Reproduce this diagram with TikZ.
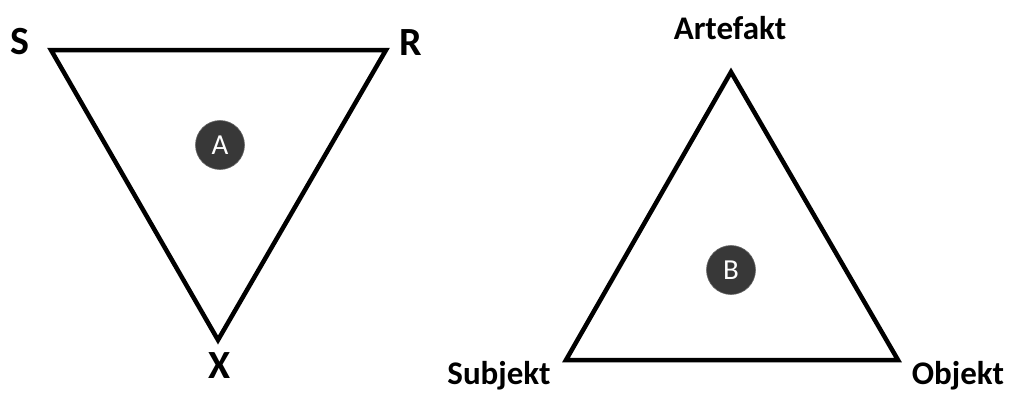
\documentclass[tikz,border=0pt]{standalone}
\usepackage{fontspec}
\setmainfont{Carlito}
\begin{document}
\begin{tikzpicture}[x=1pt,y=-1pt,
  edge/.style={line width=4.5pt,line join=miter,black},
  vlabel/.style={font=\bfseries\fontsize{40}{42}\selectfont,inner sep=0pt},
  wlabel/.style={font=\bfseries\fontsize{33}{36}\selectfont,inner sep=0pt},
  badge/.style={circle,fill=black!78,draw=black!60,line width=0.6pt,minimum size=49pt,inner sep=0pt,text=white,font=\fontsize{29}{31}\selectfont}]
\useasboundingbox (0,0) rectangle (1010,392);
% left triangle
\coordinate (s) at (51,50);
\coordinate (r) at (386,50);
\coordinate (x) at (218,340);
\draw[edge] (s) -- (r) -- (x) -- cycle;
\node[vlabel] (ls) at (20,42) {S};
\node[vlabel] (lr) at (411,43) {R};
\node[vlabel] (lx) at (220,366) {X};
\node[badge] (a) at (220,145) {A};
% right triangle
\coordinate (art) at (731,72);
\coordinate (sub) at (566,360);
\coordinate (obj) at (898,360);
\draw[edge] (art) -- (obj) -- (sub) -- cycle;
\node[wlabel] (lart) at (730,28) {Artefakt};
\node[wlabel] (lsub) at (499,376) {Subjekt};
\node[wlabel] (lobj) at (958,376) {Objekt};
\node[badge] (b) at (731,270) {B};
\end{tikzpicture}
\end{document}
